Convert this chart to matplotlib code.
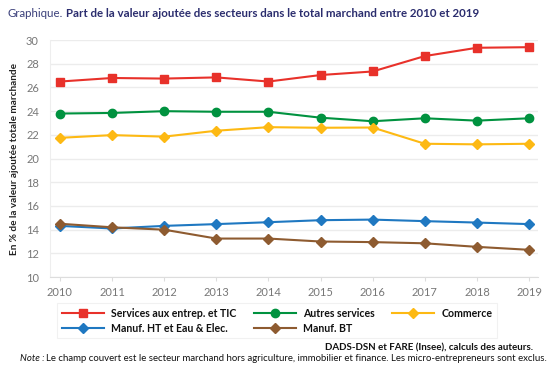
import matplotlib.pyplot as plt
from matplotlib.lines import Line2D

plt.rcParams['font.family'] = ['Lato', 'DejaVu Sans']

# Data
years = [2010, 2011, 2012, 2013, 2014, 2015, 2016, 2017, 2018, 2019]
services_tic = [26.5, 26.8, 26.75, 26.85, 26.5, 27.05, 27.35, 28.65, 29.35, 29.4]
autres_services = [23.8, 23.85, 24.0, 23.95, 23.95, 23.45, 23.15, 23.4, 23.2, 23.4]
commerce = [21.75, 21.98, 21.85, 22.35, 22.65, 22.6, 22.62, 21.25, 21.2, 21.25]
manuf_ht = [14.32, 14.1, 14.32, 14.47, 14.63, 14.8, 14.85, 14.72, 14.6, 14.47]
manuf_bt = [14.5, 14.2, 14.0, 13.25, 13.25, 13.0, 12.95, 12.85, 12.55, 12.3]

series = [
    ('Services aux entrep. et TIC', services_tic, '#e8312a', 's', 6),
    ('Autres services', autres_services, '#00923f', 'o', 6),
    ('Commerce', commerce, '#fdb913', 'D', 5.5),
    ('Manuf. HT et Eau & Elec.', manuf_ht, '#1f78c1', 'D', 5.5),
    ('Manuf. BT', manuf_bt, '#8e5b30', 'D', 5.5),
]

fig = plt.figure(figsize=(5.5, 3.78), dpi=100)
ax = fig.add_axes([0.091, 0.267, 0.887, 0.627])

handles = {}
for label, vals, color, marker, ms in series:
    ax.plot(years, vals, color=color, marker=marker, markersize=ms, linewidth=1.5)
    handles[label] = Line2D([], [], color=color, marker=marker, markersize=ms,
                            linewidth=1.5, label=label)

ax.set_xlim(2009.81, 2019.17)
ax.set_ylim(10, 30)
ax.set_yticks(range(10, 31, 2))
ax.set_xticks(years)
ax.grid(axis='y', color='#ececec', linewidth=1)
ax.set_axisbelow(True)
for side in ['top', 'right']:
    ax.spines[side].set_visible(False)
ax.spines['left'].set_color('#eeeeee')
ax.spines['bottom'].set_color('#dddddd')
ax.tick_params(axis='y', length=0, labelsize=8, labelcolor='#777777', pad=8)
ax.tick_params(axis='x', length=3, color='#dddddd', labelsize=8, labelcolor='#777777', pad=4)
ax.set_ylabel('En % de la valeur ajoutée totale marchande', fontsize=7.2,
              fontweight='bold', color='#222222', labelpad=5)

# column-major order so rows read: Services / Autres / Commerce, then HT / BT
order = ['Services aux entrep. et TIC', 'Manuf. HT et Eau & Elec.',
         'Autres services', 'Manuf. BT', 'Commerce']
leg = fig.legend(handles=[handles[k] for k in order], ncol=3, loc='upper left',
                 bbox_to_anchor=(0.094, 0.212), fontsize=7.6, frameon=True,
                 handlelength=4.0, columnspacing=1.6, handletextpad=0.7,
                 labelspacing=0.35, borderpad=0.45, fancybox=False)
leg.get_frame().set_edgecolor('#eeeeee')
leg.get_frame().set_linewidth(0.8)
for t in leg.get_texts():
    t.set_fontweight('bold')
    t.set_color('#111111')

# Title in two styles
t1 = fig.text(0.013, 0.965, 'Graphique.', fontsize=8.3, color='#3a3f7a', va='center')
fig.canvas.draw()
bb = t1.get_window_extent()
x2 = (bb.x1 + 3) / fig.bbox.width
fig.text(x2, 0.965, 'Part de la valeur ajoutée des secteurs dans le total marchand entre 2010 et 2019',
         fontsize=8.3, fontweight='bold', color='#2b2d6e', va='center')

fig.text(0.969, 0.079, 'DADS-DSN et FARE (Insee), calculs des auteurs.',
         fontsize=7, fontweight='bold', ha='right', va='center', color='#111111')
n1 = fig.text(0.036, 0.052, 'Note :', fontsize=6.9, style='italic', va='center', color='#111111')
fig.canvas.draw()
bb = n1.get_window_extent()
fig.text((bb.x1 + 2) / fig.bbox.width, 0.052,
         'Le champ couvert est le secteur marchand hors agriculture, immobilier et finance. '
         'Les micro-entrepreneurs sont exclus.',
         fontsize=6.9, va='center', color='#111111')

fig.savefig('out.png', dpi=100)
